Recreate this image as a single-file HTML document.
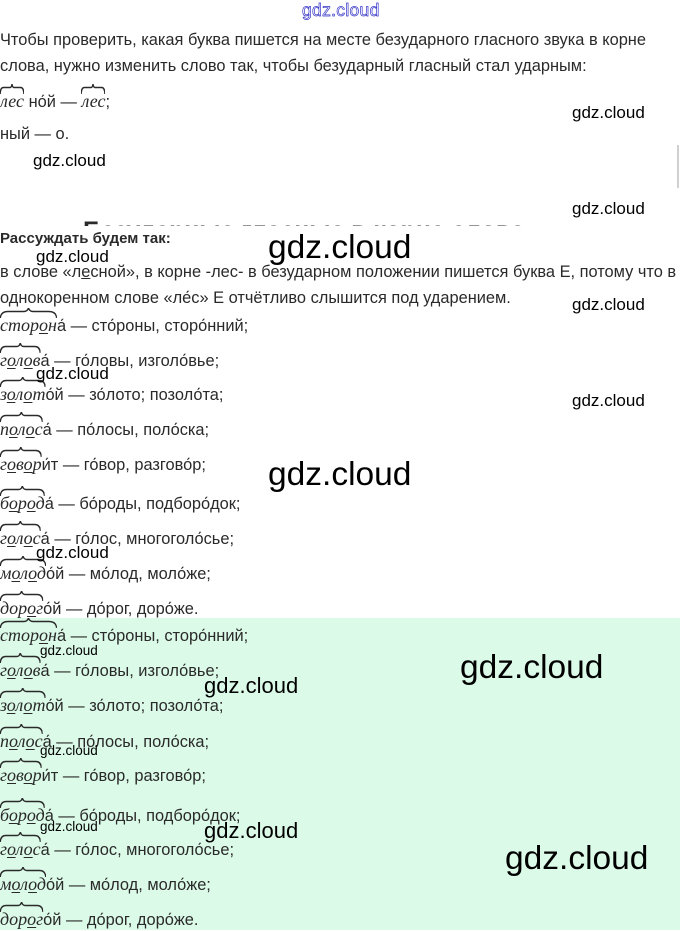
<!DOCTYPE html>
<html><head><meta charset="utf-8">
<style>
html,body{margin:0;padding:0;}
body{width:680px;height:930px;position:relative;overflow:hidden;background:#fff;font-family:"Liberation Sans",sans-serif;color:#2a2a2a;}
.ln{position:absolute;left:0;font-size:16.4px;line-height:22px;height:22px;white-space:nowrap;}
.r{position:relative;display:inline-block;font-family:"Liberation Serif",serif;font-style:italic;font-size:18px;line-height:22px;}
.r svg{position:absolute;left:0;top:-6px;width:100%;height:10px;overflow:visible;}
.r u{text-decoration:underline;text-underline-offset:2px;text-decoration-thickness:1px;}
.wm{position:absolute;font-family:"Liberation Sans",sans-serif;color:#000;white-space:nowrap;line-height:1.2;}
.green{position:absolute;left:0;top:618px;width:680px;height:312px;background:#dbfae8;}
</style></head><body>

<svg width="0" height="0" style="position:absolute">
<defs><symbol id="arc" viewBox="0 0 100 10" preserveAspectRatio="none"><path d="M0.5,10 Q1.5,3.5 14,3.5 L42,3.5 Q48,3.5 50,0 Q52,3.5 58,3.5 L86,3.5 Q98.5,3.5 99.5,10" fill="none" stroke="#2a2a2a" stroke-width="1.4" vector-effect="non-scaling-stroke"/></symbol></defs>
</svg>

<!-- top watermark -->
<div class="wm" style="left:302px;top:0px;font-size:17.5px;color:#fff;-webkit-text-stroke:0.7px #3535c8;letter-spacing:0.3px;">gdz.cloud</div>

<div class="ln" style="top:29px">Чтобы проверить, какая буква пишется на месте безударного гласного звука в корне</div>
<div class="ln" style="top:55px">слова, нужно изменить слово так, чтобы безударный гласный стал ударным:</div>
<div class="ln" style="top:90px"><span class="r"><svg><use href="#arc"/></svg>лес</span> но&#769;й — <span class="r"><svg><use href="#arc"/></svg>лес</span>;</div>
<div class="ln" style="top:123px">ный — о.</div>

<div style="position:absolute;left:677px;top:145px;width:2px;height:43px;background:#d0d0d0;"></div>

<!-- clipped heading -->
<div style="position:absolute;left:0;top:0;width:680px;height:226px;overflow:hidden;">
<div style="position:absolute;left:83px;top:216px;font-size:25px;line-height:30px;font-weight:bold;color:#2a2a2a;white-space:nowrap;letter-spacing:-0.1px;">Безударные гласные в корне слова</div>
</div>

<div class="ln" style="top:228px;font-weight:bold;font-size:15px;">Рассуждать будем так:</div>
<div class="ln" style="top:261px">в слове «л<u>е</u>сной», в корне -лес- в безударном положении пишется буква Е, потому что в</div>
<div class="ln" style="top:287px">однокоренном слове «ле&#769;с» Е отчётливо слышится под ударением.</div>

<div class="ln" style="top:314px"><span class="r"><svg><use href="#arc"/></svg>стор<u>о</u>н</span>а&#769; — сто&#769;роны, сторо&#769;нний;</div>
<div class="ln" style="top:349px"><span class="r"><svg><use href="#arc"/></svg>г<u>о</u>л<u>о</u>в</span>а&#769; — го&#769;ловы, изголо&#769;вье;</div>
<div class="ln" style="top:383px"><span class="r"><svg><use href="#arc"/></svg>з<u>о</u>л<u>о</u>т</span>о&#769;й — зо&#769;лото; позоло&#769;та;</div>
<div class="ln" style="top:418px"><span class="r"><svg><use href="#arc"/></svg>п<u>о</u>л<u>о</u>с</span>а&#769; — по&#769;лосы, поло&#769;ска;</div>
<div class="ln" style="top:453px"><span class="r"><svg><use href="#arc"/></svg>г<u>о</u>в<u>о</u>р</span>и&#769;т — го&#769;вор, разгово&#769;р;</div>
<div class="ln" style="top:492px"><span class="r"><svg><use href="#arc"/></svg>б<u>о</u>р<u>о</u>д</span>а&#769; — бо&#769;роды, подборо&#769;док;</div>
<div class="ln" style="top:527px"><span class="r"><svg><use href="#arc"/></svg>г<u>о</u>л<u>о</u>с</span>а&#769; — го&#769;лос, многоголо&#769;сье;</div>
<div class="ln" style="top:562px"><span class="r"><svg><use href="#arc"/></svg>м<u>о</u>л<u>о</u>д</span>о&#769;й — мо&#769;лод, моло&#769;же;</div>
<div class="ln" style="top:597px"><span class="r"><svg><use href="#arc"/></svg>дор<u>о</u>г</span>о&#769;й — до&#769;рог, доро&#769;же.</div>

<div class="green"></div>

<div class="ln" style="top:624px"><span class="r"><svg><use href="#arc"/></svg>стор<u>о</u>н</span>а&#769; — сто&#769;роны, сторо&#769;нний;</div>
<div class="ln" style="top:659px"><span class="r"><svg><use href="#arc"/></svg>г<u>о</u>л<u>о</u>в</span>а&#769; — го&#769;ловы, изголо&#769;вье;</div>
<div class="ln" style="top:694px"><span class="r"><svg><use href="#arc"/></svg>з<u>о</u>л<u>о</u>т</span>о&#769;й — зо&#769;лото; позоло&#769;та;</div>
<div class="ln" style="top:730px"><span class="r"><svg><use href="#arc"/></svg>п<u>о</u>л<u>о</u>с</span>а&#769; — по&#769;лосы, поло&#769;ска;</div>
<div class="ln" style="top:764px"><span class="r"><svg><use href="#arc"/></svg>г<u>о</u>в<u>о</u>р</span>и&#769;т — го&#769;вор, разгово&#769;р;</div>
<div class="ln" style="top:804px"><span class="r"><svg><use href="#arc"/></svg>б<u>о</u>р<u>о</u>д</span>а&#769; — бо&#769;роды, подборо&#769;док;</div>
<div class="ln" style="top:838px"><span class="r"><svg><use href="#arc"/></svg>г<u>о</u>л<u>о</u>с</span>а&#769; — го&#769;лос, многоголо&#769;сье;</div>
<div class="ln" style="top:873px"><span class="r"><svg><use href="#arc"/></svg>м<u>о</u>л<u>о</u>д</span>о&#769;й — мо&#769;лод, моло&#769;же;</div>
<div class="ln" style="top:908px"><span class="r"><svg><use href="#arc"/></svg>дор<u>о</u>г</span>о&#769;й — до&#769;рог, доро&#769;же.</div>

<!-- watermarks -->
<div class="wm" style="left:572px;top:103px;font-size:17px;">gdz.cloud</div>
<div class="wm" style="left:33px;top:151px;font-size:17px;">gdz.cloud</div>
<div class="wm" style="left:572px;top:199px;font-size:17px;">gdz.cloud</div>
<div class="wm" style="left:268px;top:228px;font-size:33.5px;">gdz.cloud</div>
<div class="wm" style="left:36px;top:247px;font-size:17px;">gdz.cloud</div>
<div class="wm" style="left:572px;top:295px;font-size:17px;">gdz.cloud</div>
<div class="wm" style="left:36px;top:364px;font-size:17px;">gdz.cloud</div>
<div class="wm" style="left:572px;top:391px;font-size:17px;">gdz.cloud</div>
<div class="wm" style="left:268px;top:455px;font-size:33.5px;">gdz.cloud</div>
<div class="wm" style="left:36px;top:543px;font-size:17px;">gdz.cloud</div>

<div class="wm" style="left:40px;top:643px;font-size:13.5px;">gdz.cloud</div>
<div class="wm" style="left:204px;top:673px;font-size:22px;">gdz.cloud</div>
<div class="wm" style="left:460px;top:648px;font-size:33.5px;">gdz.cloud</div>
<div class="wm" style="left:40px;top:743px;font-size:13.5px;">gdz.cloud</div>
<div class="wm" style="left:40px;top:819px;font-size:13.5px;">gdz.cloud</div>
<div class="wm" style="left:204px;top:818px;font-size:22px;">gdz.cloud</div>
<div class="wm" style="left:505px;top:839px;font-size:33.5px;">gdz.cloud</div>

</body></html>
